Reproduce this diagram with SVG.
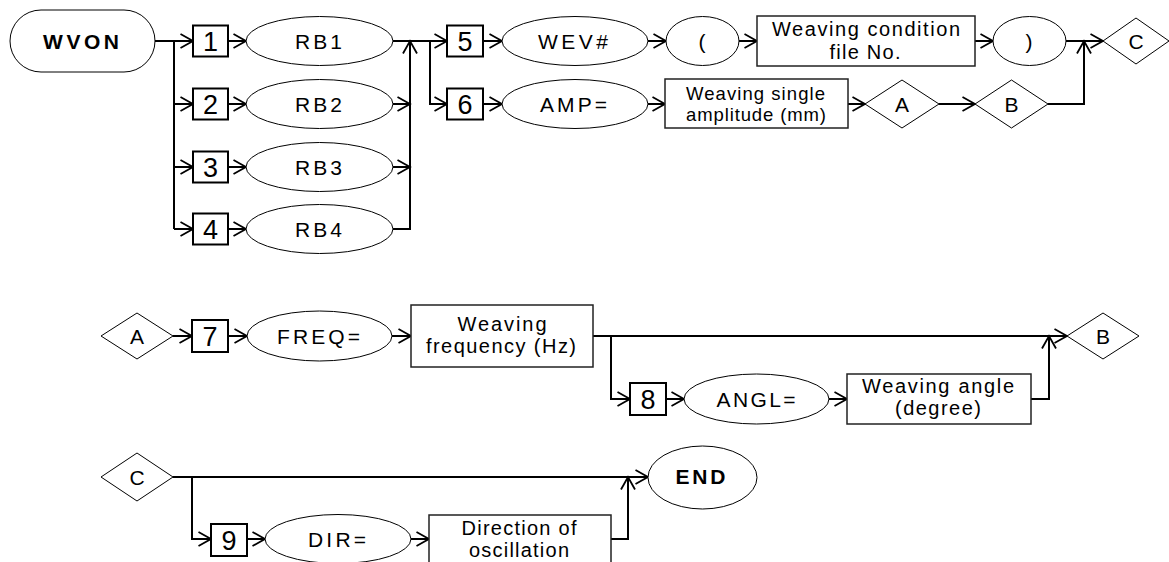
<svg xmlns="http://www.w3.org/2000/svg" width="1169" height="562" viewBox="0 0 1169 562">
<style>
text{font-family:"Liberation Sans",Arial,sans-serif;fill:#000;text-anchor:middle}
.t21{font-size:21px}
.t20{font-size:20px}
.t19{font-size:19px}
.t18{font-size:18.5px}
.num{font-size:27px}
.bold{font-weight:bold;font-size:21px}
.box{fill:#fff;stroke:#000;stroke-width:2}
.ell{fill:#fff;stroke:#000;stroke-width:1}
.rct{fill:#fff;stroke:#222;stroke-width:1.5}
.dia{fill:#fff;stroke:#000;stroke-width:1}
.conn path{fill:none;stroke:#000;stroke-width:2}
.arr{marker-end:url(#ah)}
</style>
<defs>
<marker id="ah" markerWidth="16" markerHeight="16" refX="13" refY="8" orient="auto" markerUnits="userSpaceOnUse" overflow="visible">
<path d="M0.5,1 L13,8 L0.5,15" fill="none" stroke="#000" stroke-width="1.8"/>
</marker>
</defs>
<rect width="1169" height="562" fill="#fff"/>

<g class="conn" id="connectors">
<path d="M155,41 H174 V229"/>
<path class="arr" d="M174,41 H193"/>
<path class="arr" d="M174,104 H193"/>
<path class="arr" d="M174,167 H193"/>
<path class="arr" d="M174,229 H193"/>
<path class="arr" d="M228,41 H246"/>
<path class="arr" d="M228,104 H246"/>
<path class="arr" d="M228,167 H246"/>
<path class="arr" d="M228,229 H246"/>
<path d="M393,41 H430"/>
<path class="arr" d="M393,104 H410"/>
<path class="arr" d="M393,167 H410"/>
<path class="arr" d="M393,229 H410 V41"/>
<path class="arr" d="M430,41 H447"/>
<path class="arr" d="M430,41 V104 H447"/>
<path class="arr" d="M483,41 H502"/>
<path class="arr" d="M648,41 H666"/>
<path class="arr" d="M739,41 H757"/>
<path class="arr" d="M975,41 H993"/>
<path class="arr" d="M1066,41 H1103"/>
<path class="arr" d="M1048,104 H1084 V41"/>
<path class="arr" d="M483,104 H502"/>
<path class="arr" d="M648,104 H665"/>
<path class="arr" d="M848,104 H865"/>
<path class="arr" d="M939,104 H975"/>
<path class="arr" d="M173,336 H192"/>
<path class="arr" d="M228,336 H247"/>
<path class="arr" d="M392,336 H411"/>
<path class="arr" d="M593,336 H1067"/>
<path class="arr" d="M611,336 V399 H630"/>
<path class="arr" d="M666,399 H684"/>
<path class="arr" d="M829,399 H847"/>
<path class="arr" d="M1031,399 H1049 V336"/>
<path class="arr" d="M173,477 H648"/>
<path class="arr" d="M192,477 V539 H211"/>
<path class="arr" d="M247,539 H265"/>
<path class="arr" d="M411,539 H429"/>
<path class="arr" d="M611,539 H628 V477"/>
</g>

<g id="wvon"><rect x="10" y="10" width="145" height="62" rx="31" class="ell"/><text x="81" y="48.5" class="bold" textLength="76">WVON</text></g>

<g id="n1"><rect x="193" y="25.5" width="35" height="31" class="box"/><text x="210.5" y="50.5" class="num">1</text></g>
<g id="n2"><rect x="193" y="88.5" width="35" height="31" class="box"/><text x="210.5" y="113.5" class="num">2</text></g>
<g id="n3"><rect x="193" y="151.5" width="35" height="31" class="box"/><text x="210.5" y="176.5" class="num">3</text></g>
<g id="n4"><rect x="193" y="213.5" width="35" height="31" class="box"/><text x="210.5" y="238.5" class="num">4</text></g>

<g id="rb1"><ellipse cx="319.5" cy="41" rx="73.5" ry="24.5" class="ell"/><text x="318.5" y="48.5" class="t21" textLength="47">RB1</text></g>
<g id="rb2"><ellipse cx="319.5" cy="104" rx="73.5" ry="24.5" class="ell"/><text x="318.5" y="111.5" class="t21" textLength="47">RB2</text></g>
<g id="rb3"><ellipse cx="319.5" cy="167" rx="73.5" ry="24.5" class="ell"/><text x="318.5" y="174.5" class="t21" textLength="47">RB3</text></g>
<g id="rb4"><ellipse cx="319.5" cy="229" rx="73.5" ry="24.5" class="ell"/><text x="318.5" y="236.5" class="t21" textLength="47">RB4</text></g>

<g id="n5"><rect x="447" y="25.5" width="36" height="31" class="box"/><text x="465" y="50.5" class="num">5</text></g>
<g id="n6"><rect x="447" y="88.5" width="36" height="31" class="box"/><text x="465" y="113.5" class="num">6</text></g>

<g id="wev"><ellipse cx="575" cy="41" rx="73" ry="24.5" class="ell"/><text x="573" y="48.5" class="t21" textLength="70">WEV#</text></g>
<g id="amp"><ellipse cx="575" cy="104" rx="73" ry="24.5" class="ell"/><text x="573.5" y="111.5" class="t21" textLength="67">AMP=</text></g>

<g id="lparen"><ellipse cx="702.5" cy="41" rx="36.5" ry="24.5" class="ell"/><text x="702" y="48.5" class="t21">(</text></g>
<g id="condfile"><rect x="757" y="16" width="218" height="50" class="rct"/><text x="866" y="36" class="t20" textLength="188">Weaving condition</text><text x="865" y="59" class="t20" textLength="71">file No.</text></g>
<g id="rparen"><ellipse cx="1029.5" cy="41" rx="36.5" ry="24.5" class="ell"/><text x="1029" y="48.5" class="t21">)</text></g>
<g id="c1"><polygon points="1103,41 1136,18 1169,41 1136,64" class="dia"/><text x="1136" y="48.5" class="t21">C</text></g>

<g id="ampval"><rect x="665" y="79" width="183" height="49" class="rct"/><text x="755.5" y="100" class="t18" textLength="139">Weaving single</text><text x="756" y="121" class="t18" textLength="140">amplitude (mm)</text></g>
<g id="a1"><polygon points="865,104 902,80 939,104 902,128" class="dia"/><text x="902" y="111.5" class="t21">A</text></g>
<g id="b1"><polygon points="975,104 1011.5,80 1048,104 1011.5,128" class="dia"/><text x="1011.5" y="111.5" class="t21">B</text></g>

<g id="a2"><polygon points="101,336 137,313 173,336 137,359" class="dia"/><text x="137" y="343.5" class="t21">A</text></g>
<g id="n7"><rect x="192" y="320" width="36" height="32" class="box"/><text x="210" y="345.5" class="num">7</text></g>
<g id="freq"><ellipse cx="319.5" cy="336" rx="72.5" ry="25" class="ell"/><text x="318.5" y="343.5" class="t21" textLength="83">FREQ=</text></g>
<g id="freqval"><rect x="411" y="305" width="182" height="62" class="rct"/><text x="502" y="331" class="t20" textLength="89">Weaving</text><text x="501" y="353" class="t20" textLength="150">frequency (Hz)</text></g>
<g id="n8"><rect x="630" y="383" width="36" height="32" class="box"/><text x="648" y="408.5" class="num">8</text></g>
<g id="angl"><ellipse cx="756.5" cy="399" rx="72.5" ry="25" class="ell"/><text x="756" y="406.5" class="t21" textLength="79">ANGL=</text></g>
<g id="anglval"><rect x="847" y="374" width="184" height="50" class="rct"/><text x="938" y="393" class="t20" textLength="152">Weaving angle</text><text x="938" y="415" class="t20" textLength="86">(degree)</text></g>
<g id="b2"><polygon points="1067,336 1103,313 1139,336 1103,359" class="dia"/><text x="1103" y="343.5" class="t21">B</text></g>

<g id="c2"><polygon points="101,477 137,453 173,477 137,501" class="dia"/><text x="137" y="484.5" class="t21">C</text></g>
<g id="n9"><rect x="211" y="524" width="36" height="32" class="box"/><text x="229" y="549.5" class="num">9</text></g>
<g id="dir"><ellipse cx="338" cy="539" rx="73" ry="24.5" class="ell"/><text x="337" y="546.5" class="t21" textLength="58">DIR=</text></g>
<g id="dirval"><rect x="429" y="515" width="182" height="60" class="rct"/><text x="519" y="535" class="t20" textLength="115">Direction of</text><text x="519" y="557" class="t20" textLength="100">oscillation</text></g>
<g id="end"><ellipse cx="702.5" cy="477.5" rx="54.5" ry="31.5" class="ell"/><text x="700.5" y="483.5" class="bold" textLength="50">END</text></g>
</svg>
